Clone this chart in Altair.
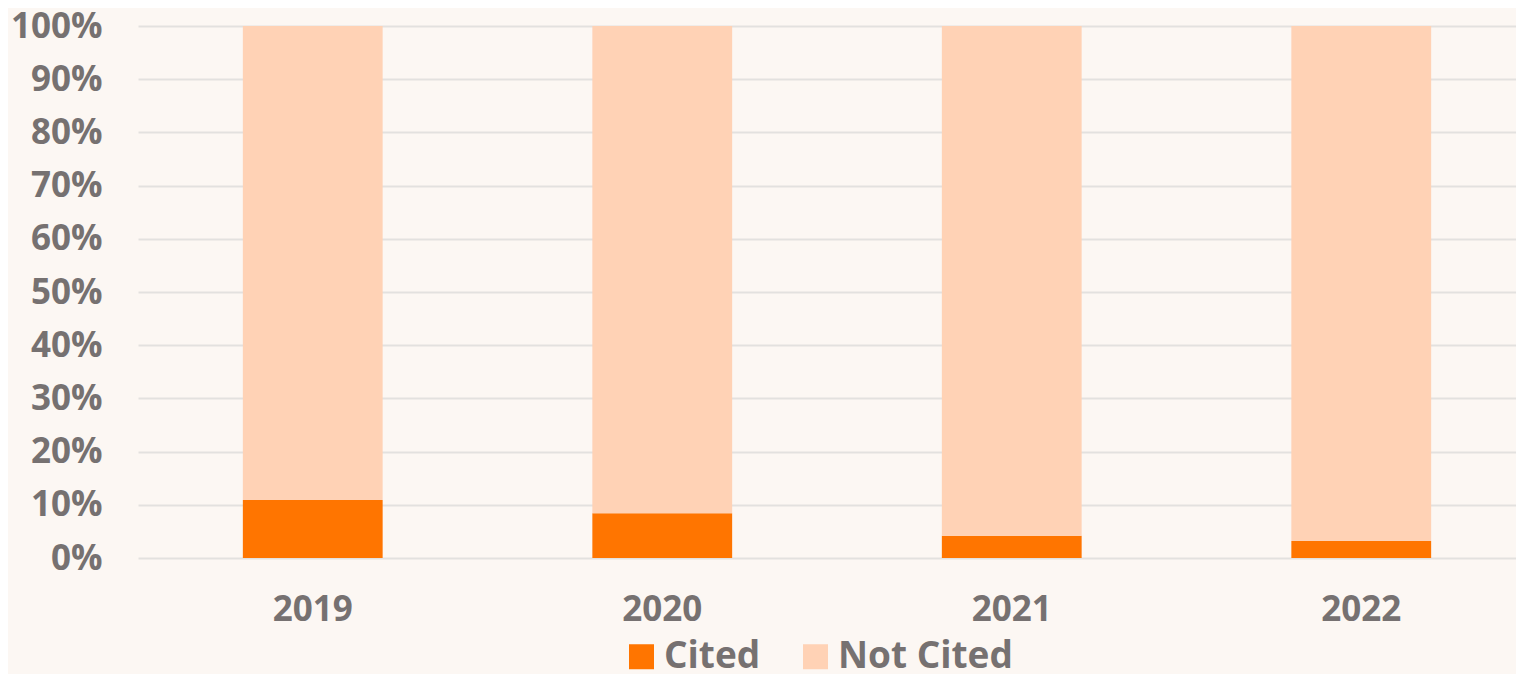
import altair as alt
import pandas as pd

years = ["2019", "2020", "2021", "2022"]
cited = [10.9, 8.4, 4.2, 3.2]
not_cited = [100 - c for c in cited]
series = ["Cited", "Not Cited"]
colors = ["#FF7500", "#FFD2B5"]

rows = []
for y, c, n in zip(years, cited, not_cited):
    rows.append({"year": y, "status": "Cited", "value": c / 100, "ord": 0})
    rows.append({"year": y, "status": "Not Cited", "value": n / 100, "ord": 1})
df = pd.DataFrame(rows)

FONT = "Open Sans"
GRAY = "#767171"

chart = alt.Chart(df).mark_bar().encode(
    x=alt.X("year:N", title=None,
            scale=alt.Scale(range=[0, 1398], paddingInner=0.6, paddingOuter=0.3),
            axis=alt.Axis(labelAngle=0, ticks=False, domain=False, grid=False,
                          labelFont=FONT, labelFontSize=35, labelFontWeight="bold",
                          labelColor=GRAY, labelPadding=34)),
    y=alt.Y("value:Q", title=None, stack="zero",
            scale=alt.Scale(domain=[0, 1]),
            axis=alt.Axis(format=".0%", values=[i / 10 for i in range(11)],
                          ticks=False, domain=False, gridColor="#E3E1DF", gridWidth=2,
                          labelFont=FONT, labelFontSize=35, labelFontWeight="bold",
                          labelColor=GRAY, labelPadding=36)),
    color=alt.Color("status:N", scale=alt.Scale(domain=series, range=colors),
                    legend=alt.Legend(title=None, orient="none", direction="horizontal",
                                      legendX=485, legendY=612,
                                      symbolType="square", symbolSize=625,
                                      symbolStrokeWidth=0, symbolOffset=0,
                                      labelFont=FONT, labelFontSize=37,
                                      labelFontWeight="bold", labelColor=GRAY,
                                      labelOffset=4, columnPadding=36,
                                      labelLimit=400)),
    order=alt.Order("ord:Q", sort="ascending"),
).properties(
    width=1378, height=532,
    autosize=alt.AutoSizeParams(type="none"),
    padding={"left": 130, "top": 18, "right": 0, "bottom": 116},
    background="#FCF7F3",
).configure_view(stroke=None)

chart.save("out.html", embed_options={"renderer": "svg", "actions": False})
